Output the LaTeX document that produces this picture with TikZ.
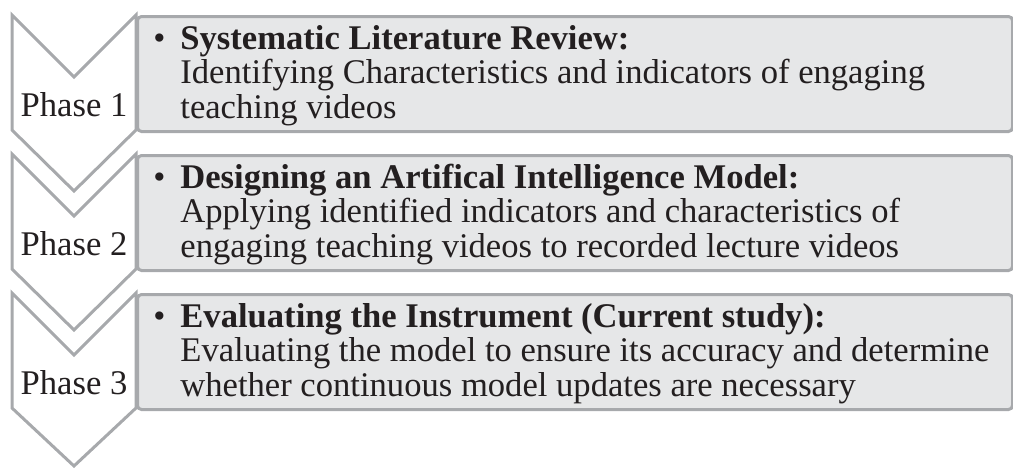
\documentclass[tikz,border=0pt]{standalone}
\usepackage{fontspec}
\setmainfont{Liberation Serif}
\usetikzlibrary{positioning}
\definecolor{boxgray}{RGB}{230,231,232}
\definecolor{linegray}{RGB}{167,169,172}
\definecolor{textdark}{RGB}{35,31,32}
\newcommand{\phasefont}{\fontsize{17.3}{17.25}\selectfont}
\newcommand{\bul}{\llap{\textbullet\hspace{7.5pt}}}

\tikzset{
  phasebox/.style={draw=linegray, line width=1.5pt, fill=boxgray, rounded corners=2pt,
    anchor=north west, minimum width=437.5pt, minimum height=57.5pt, inner sep=0pt},
  chevron/.style={draw=linegray, line width=1.5pt, fill=white, line join=miter},
  phaselabel/.style={font=\phasefont, text=textdark, anchor=base, inner sep=0pt},
  % base of a multi-line node = baseline of its last line
  phasetext/.style={font=\phasefont, text=textdark, anchor=base west, align=left, inner sep=0pt}
}

\begin{document}
\begin{tikzpicture}[x=0.5pt, y=-0.5pt]
  \useasboundingbox (0,0) rectangle (1013,468);
  % Phase 1
  \node[phasebox] (box1) at (136,15) {};
  \draw[chevron] (12,15) -- (74,77) -- (136,15) -- (136,130) -- (74,191) -- (12,130) -- cycle;
  \node[phaselabel] (phase1) at (74,116) {Phase 1};
  \node[phasetext] (text1) at (180,118)
    {\bul\textbf{Systematic Literature Review:}\\
     Identifying Characteristics and indicators of engaging\\
     teaching videos};
  % Phase 2
  \node[phasebox] (box2) at (136,154) {};
  \draw[chevron] (12,154) -- (74,216) -- (136,154) -- (136,269) -- (74,330) -- (12,269) -- cycle;
  \node[phaselabel] (phase2) at (74,255) {Phase 2};
  \node[phasetext] (text2) at (180,257)
    {\bul\textbf{Designing an Artifical Intelligence Model:}\\
     Applying identified indicators and characteristics of\\
     engaging teaching videos to recorded lecture videos};
  % Phase 3
  \node[phasebox] (box3) at (136,293) {};
  \draw[chevron] (12,293) -- (74,355) -- (136,293) -- (136,408) -- (74,466) -- (12,408) -- cycle;
  \node[phaselabel] (phase3) at (74,394) {Phase 3};
  \node[phasetext] (text3) at (180,396)
    {\bul\textbf{Evaluating the Instrument (Current study):}\\
     Evaluating the model to ensure its accuracy and determine\\
     whether continuous model updates are necessary};
\end{tikzpicture}
\end{document}
